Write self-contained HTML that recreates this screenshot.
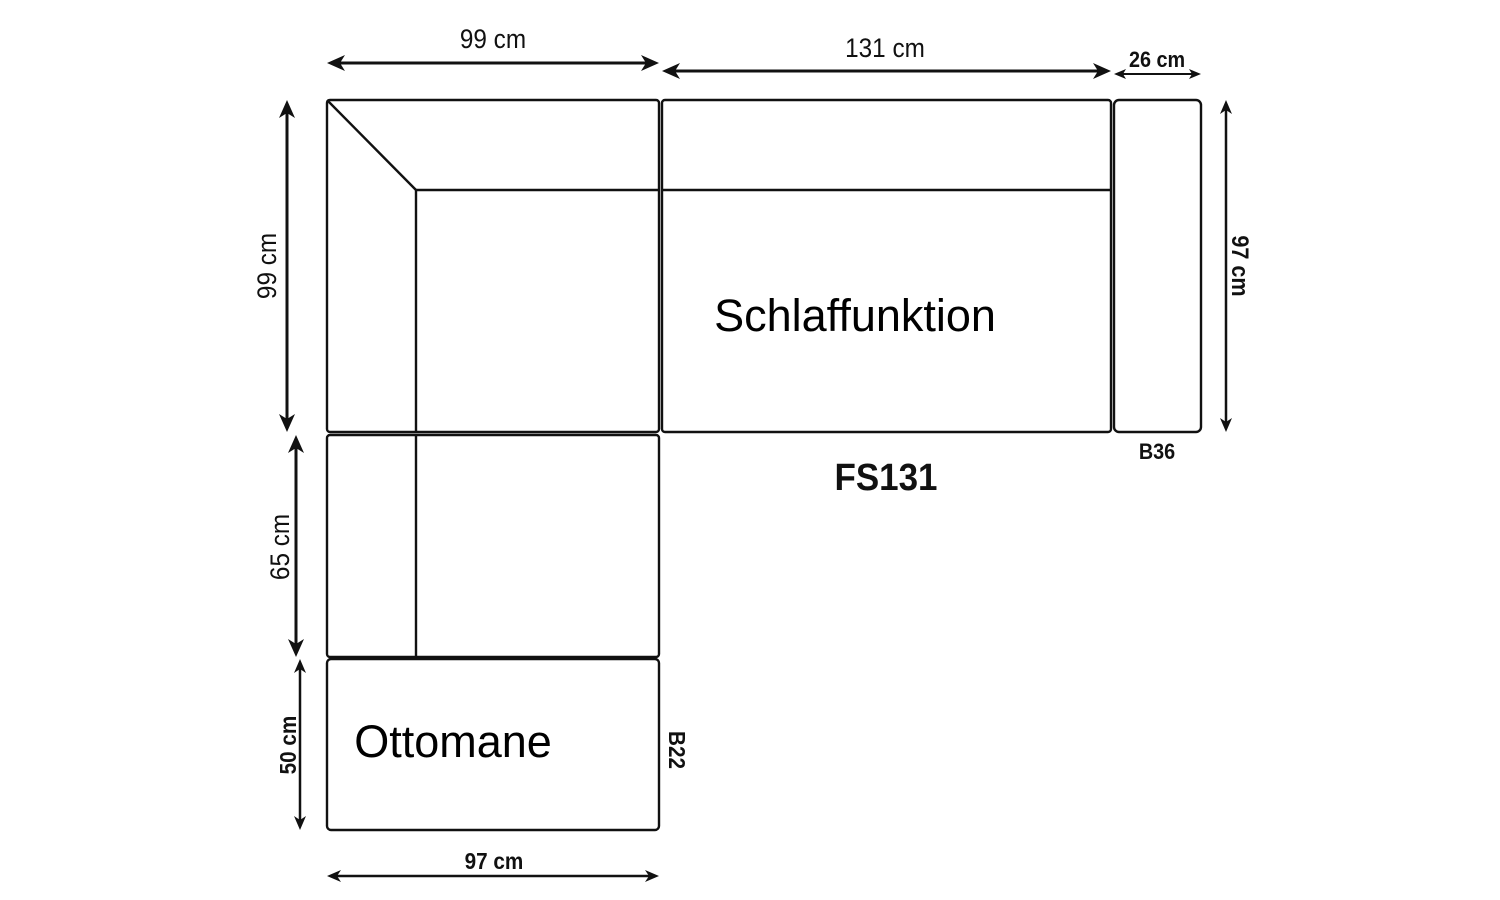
<!DOCTYPE html>
<html><head><meta charset="utf-8"><style>
html,body{margin:0;padding:0;background:#fff;}
svg{display:block;}
.d{font-family:"Liberation Sans",sans-serif;font-size:27px;fill:#111;}
.b{font-family:"Liberation Sans",sans-serif;font-weight:bold;fill:#111;}
.l{font-family:"Liberation Sans",sans-serif;font-size:45px;fill:#000;}
</style></head><body>
<svg width="1500" height="900" viewBox="0 0 1500 900" xmlns="http://www.w3.org/2000/svg">
<g fill="none" stroke="#111" stroke-width="2.4">
<rect x="327" y="100" width="332" height="332" rx="3"/>
<line x1="327" y1="100" x2="416" y2="190"/>
<line x1="416" y1="190" x2="659" y2="190"/>
<line x1="416" y1="190" x2="416" y2="432"/>
<rect x="662" y="100" width="449" height="332" rx="3"/>
<line x1="662" y1="190" x2="1111" y2="190"/>
<rect x="1114" y="100" width="87" height="332" rx="5"/>
<rect x="327" y="435" width="332" height="222" rx="3"/>
<line x1="416" y1="435" x2="416" y2="657"/>
<rect x="327" y="659" width="332" height="171" rx="4"/>
</g>
<g stroke="#111" stroke-width="3">
<line x1="335" y1="63" x2="651" y2="63"/>
<line x1="670" y1="71" x2="1103" y2="71"/>
<line x1="1120" y1="74" x2="1195" y2="74" stroke-width="2"/>
<line x1="287" y1="108" x2="287" y2="424"/>
<line x1="1226" y1="108" x2="1226" y2="424" stroke-width="2.5"/>
<line x1="296" y1="443" x2="296" y2="649"/>
<line x1="300" y1="667" x2="300" y2="822" stroke-width="2.5"/>
<line x1="335" y1="876" x2="651" y2="876" stroke-width="2.5"/>
</g>
<g fill="#111">
<polygon points="327,63 345,55 340,63 345,71"/><polygon points="659,63 641,55 646,63 641,71"/>
<polygon points="662,71 680,63 675,71 680,79"/><polygon points="1111,71 1093,63 1098,71 1093,79"/>
<polygon points="1114,74 1126,69 1123,74 1126,79"/><polygon points="1201,74 1189,69 1192,74 1189,79"/>
<polygon points="287,100 279,118 287,113 295,118"/><polygon points="287,432 279,414 287,419 295,414"/>
<polygon points="1226,100 1220,114 1226,110 1232,114"/><polygon points="1226,432 1220,418 1226,422 1232,418"/>
<polygon points="296,435 288,453 296,448 304,453"/><polygon points="296,657 288,639 296,644 304,639"/>
<polygon points="300,659 294,673 300,669 306,673"/><polygon points="300,830 294,816 300,820 306,816"/>
<polygon points="327,876 341,870 337,876 341,882"/><polygon points="659,876 645,870 649,876 645,882"/>
</g>
<text class="d" x="493" y="48" text-anchor="middle" transform="translate(493 0) scale(0.9 1) translate(-493 0)">99 cm</text>
<text class="d" x="885" y="57" text-anchor="middle" transform="translate(885 0) scale(0.9 1) translate(-885 0)">131 cm</text>
<text class="b" x="1157" y="67" font-size="22" text-anchor="middle" transform="translate(1157 0) scale(0.9 1) translate(-1157 0)">26 cm</text>
<text class="d" x="0" y="0" text-anchor="middle" transform="translate(276 266) rotate(-90) scale(0.9 1)">99 cm</text>
<text class="b" x="0" y="0" font-size="24" text-anchor="middle" transform="translate(1232 266) rotate(90) scale(0.9 1)">97 cm</text>
<text class="d" x="0" y="0" font-size="30" text-anchor="middle" transform="translate(289 547) rotate(-90) scale(0.9 1)">65 cm</text>
<text class="b" x="0" y="0" font-size="23" text-anchor="middle" transform="translate(296 745) rotate(-90) scale(0.9 1)">50 cm</text>
<text class="b" x="0" y="0" font-size="23" text-anchor="middle" transform="translate(669 750) rotate(90) scale(0.9 1)">B22</text>
<text class="b" x="494" y="869" font-size="23" text-anchor="middle" transform="translate(494 0) scale(0.9 1) translate(-494 0)">97 cm</text>
<text class="b" x="1157" y="459" font-size="22" text-anchor="middle" transform="translate(1157 0) scale(0.9 1) translate(-1157 0)">B36</text>
<text class="b" x="886" y="490" font-size="38" text-anchor="middle" transform="translate(886 0) scale(0.92 1) translate(-886 0)">FS131</text>
<text class="l" x="855" y="331" text-anchor="middle">Schlaffunktion</text>
<text class="l" x="453" y="757" text-anchor="middle">Ottomane</text>
</svg>
</body></html>
